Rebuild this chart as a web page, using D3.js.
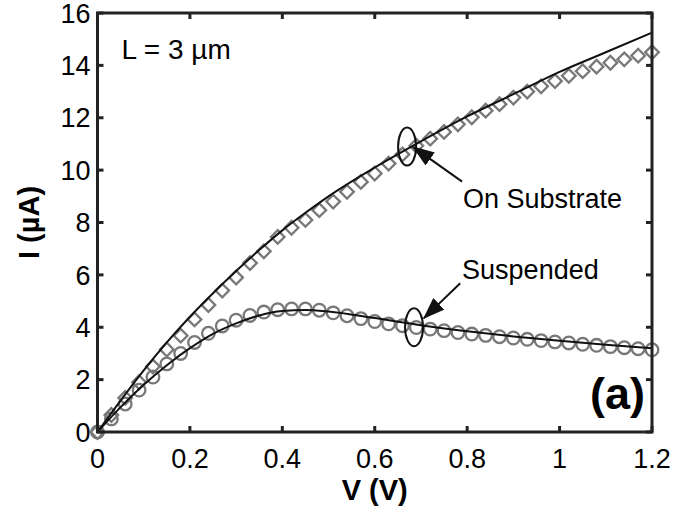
<!DOCTYPE html>
<html lang="en">
<head>
    <meta charset="UTF-8">
    <title>I-V curves, L = 3 um</title>
    <script src="https://d3js.org/d3.v7.min.js"></script>
    <style>
        body { margin: 0; background: white; }
        text { font-family: "Liberation Sans", Arial, Helvetica, sans-serif; fill: black; }
    </style>
</head>
<body>
    <div id="chart"></div>

    <script>
        // measured points, one every 0.03 V
        const voltage = d3.range(0, 41).map(i => +(i * 0.03).toFixed(2));
        const substrateData = [0, 0.65, 1.3, 1.9, 2.5, 3.15, 3.68, 4.3, 4.85, 5.4, 5.9,
                               6.45, 6.9, 7.45, 7.8, 8.1, 8.47, 8.8, 9.17, 9.55, 9.87,
                               10.25, 10.6, 10.93, 11.2, 11.46, 11.75, 12.02, 12.27, 12.52, 12.77,
                               13.0, 13.2, 13.4, 13.6, 13.78, 13.95, 14.1, 14.23, 14.37, 14.5];
        const suspendedData = [0, 0.5, 1.07, 1.6, 2.1, 2.6, 3.0, 3.42, 3.77, 4.05, 4.27,
                               4.45, 4.58, 4.67, 4.7, 4.7, 4.65, 4.55, 4.44, 4.33, 4.22,
                               4.13, 4.06, 3.99, 3.93, 3.87, 3.8, 3.74, 3.69, 3.64, 3.59,
                               3.54, 3.49, 3.44, 3.4, 3.35, 3.31, 3.26, 3.22, 3.18, 3.14];

        // model curves
        const fitV = [0, 0.05, 0.1, 0.15, 0.2, 0.25, 0.3, 0.35, 0.4, 0.45, 0.5, 0.6, 0.7, 0.8, 0.9, 1.0, 1.1, 1.2];
        const substrateFit = [0, 1.2, 2.35, 3.42, 4.4, 5.3, 6.15, 6.95, 7.7, 8.37, 9.0, 10.1, 11.1, 12.05, 12.9, 13.75, 14.5, 15.25];
        const suspendedFit = [0, 0.95, 1.8, 2.55, 3.2, 3.75, 4.15, 4.45, 4.62, 4.66, 4.6, 4.35, 4.08, 3.85, 3.65, 3.48, 3.33, 3.2];

        const xTicks = [0, 0.2, 0.4, 0.6, 0.8, 1, 1.2];
        const yTicks = [0, 2, 4, 6, 8, 10, 12, 14, 16];

        // callouts in data units: ellipse centre, arrow tail, arrow tip, label anchor
        const callouts = [
            {label: "On Substrate", cv: 0.67, ci: 10.9, tailV: 0.789, tailI: 9.56, tipV: 0.683, tipI: 10.89, textV: 0.791, textI: 8.55},
            {label: "Suspended", cv: 0.685, ci: 4.0, tailV: 0.785, tailI: 5.68, tipV: 0.706, tipI: 4.34, textV: 0.789, textI: 5.86}
        ];

        const margin = {top: 13, right: 22, bottom: 78, left: 97.5};
        const width = 674 - margin.left - margin.right,
              height = 510 - margin.top - margin.bottom;

        const svg = d3.select("#chart")
                      .append("svg")
                      .attr("width", 674)
                      .attr("height", 510)
                      .append("g")
                      .attr("transform", `translate(${margin.left},${margin.top})`);

        const x = d3.scaleLinear().domain([0, 1.2]).range([0, width]);
        const y = d3.scaleLinear().domain([0, 16]).range([height, 0]);

        const gray = "#787878";

        // markers first, the fit lines go on top
        svg.selectAll(".diamond")
           .data(voltage)
           .enter()
           .append("path")
           .attr("d", d3.symbol().type(d3.symbolSquare).size(92))
           .attr("transform", (d, i) => `translate(${x(d)},${y(substrateData[i])}) rotate(45)`)
           .attr("fill", "none")
           .attr("stroke", gray)
           .attr("stroke-width", 2.3);

        svg.selectAll(".circ")
           .data(voltage)
           .enter()
           .append("circle")
           .attr("cx", d => x(d))
           .attr("cy", (d, i) => y(suspendedData[i]))
           .attr("r", 6.3)
           .attr("fill", "none")
           .attr("stroke", gray)
           .attr("stroke-width", 2.3);

        const fitLine = vals => d3.line()
                                  .x((d, i) => x(fitV[i]))
                                  .y(d => y(d))
                                  .curve(d3.curveMonotoneX)(vals);

        [substrateFit, suspendedFit].forEach(vals => {
            svg.append("path")
               .attr("d", fitLine(vals))
               .attr("fill", "none")
               .attr("stroke", "#111")
               .attr("stroke-width", 2);
        });

        // frame with inward ticks on all sides
        const ax = svg.append("g").attr("stroke", "#222").attr("stroke-width", 3);
        ax.append("rect")
          .attr("width", width).attr("height", height)
          .attr("fill", "none");
        xTicks.forEach(t => {
            ax.append("line").attr("x1", x(t)).attr("x2", x(t)).attr("y1", height).attr("y2", height - 6);
            ax.append("line").attr("x1", x(t)).attr("x2", x(t)).attr("y1", 0).attr("y2", 6);
        });
        yTicks.forEach(t => {
            ax.append("line").attr("y1", y(t)).attr("y2", y(t)).attr("x1", 0).attr("x2", 6);
            ax.append("line").attr("y1", y(t)).attr("y2", y(t)).attr("x1", width).attr("x2", width - 6);
        });

        svg.selectAll(".xlab")
           .data(xTicks)
           .enter()
           .append("text")
           .attr("x", d => x(d))
           .attr("y", height + 36)
           .attr("text-anchor", "middle")
           .style("font-size", "27px")
           .text(d => d);

        svg.selectAll(".ylab")
           .data(yTicks)
           .enter()
           .append("text")
           .attr("x", -7)
           .attr("y", d => y(d))
           .attr("dy", "0.36em")
           .attr("text-anchor", "end")
           .style("font-size", "27px")
           .text(d => d);

        // axis titles
        svg.append("text")
           .attr("x", width / 2)
           .attr("y", height + 68)
           .attr("text-anchor", "middle")
           .style("font-size", "29px")
           .style("font-weight", "bold")
           .text("V (V)");

        svg.append("text")
           .attr("transform", `translate(-59,${height / 2}) rotate(-90)`)
           .attr("text-anchor", "middle")
           .style("font-size", "29px")
           .style("font-weight", "bold")
           .text("I (\u00b5A)");

        svg.append("text")
           .attr("x", 24)
           .attr("y", 46)
           .style("font-size", "28px")
           .text("L = 3 \u00b5m");

        svg.append("text")
           .attr("x", width - 7)
           .attr("y", 396)
           .attr("text-anchor", "end")
           .style("font-size", "45px")
           .style("font-weight", "bold")
           .text("(a)");

        // arrow head, a bit bigger than the default
        svg.append("defs")
           .append("marker")
           .attr("id", "head")
           .attr("viewBox", "0 0 22 16")
           .attr("refX", 21).attr("refY", 8)
           .attr("markerWidth", 22).attr("markerHeight", 16)
           .attr("markerUnits", "userSpaceOnUse")
           .attr("orient", "auto")
           .append("path")
           .attr("d", "M0,0 L22,8 L0,16 Z")
           .attr("fill", "#111");

        callouts.forEach(c => {
            svg.append("ellipse")
               .attr("cx", x(c.cv)).attr("cy", y(c.ci))
               .attr("rx", 9).attr("ry", 19)
               .attr("fill", "none")
               .attr("stroke", "#111")
               .attr("stroke-width", 2);
            svg.append("line")
               .attr("x1", x(c.tailV)).attr("y1", y(c.tailI))
               .attr("x2", x(c.tipV)).attr("y2", y(c.tipI))
               .attr("stroke", "#111")
               .attr("stroke-width", 2)
               .attr("marker-end", "url(#head)");
            svg.append("text")
               .attr("x", x(c.textV)).attr("y", y(c.textI))
               .style("font-size", "27px")
               .text(c.label);
        });
    </script>
</body>
</html>
